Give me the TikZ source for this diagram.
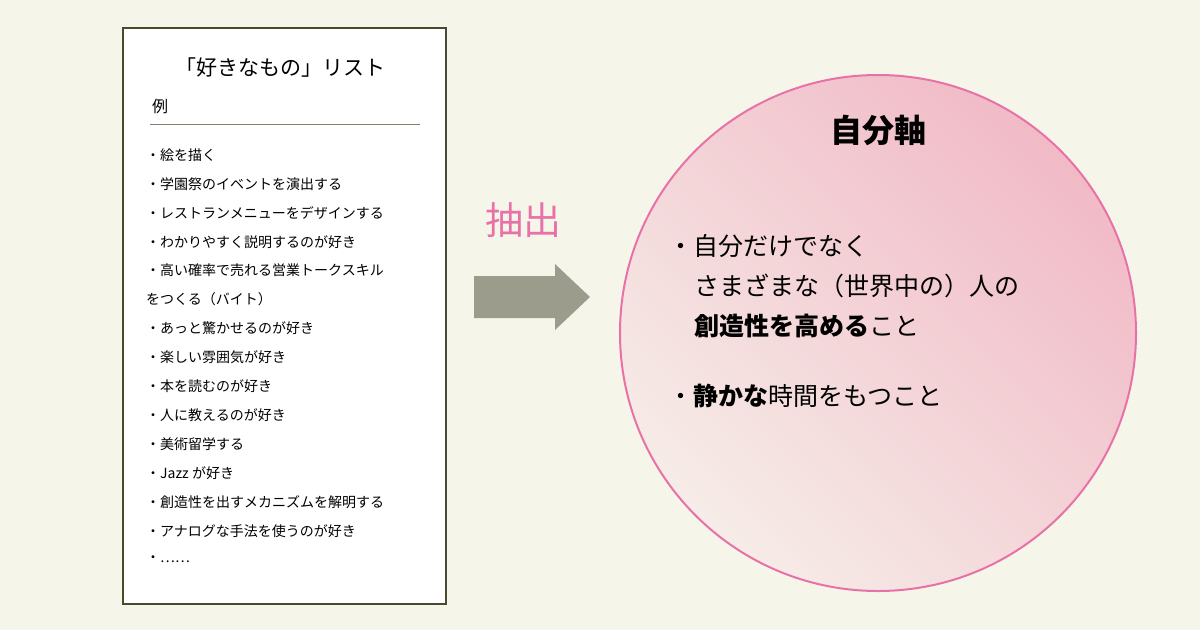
\documentclass[tikz,border=0pt]{standalone}
\usepackage{fontspec}
\newfontfamily\cjk{Noto Sans CJK JP}
\definecolor{bg}{HTML}{F6F5EA}
\definecolor{frame}{HTML}{4A4A2E}
\definecolor{arrowc}{HTML}{9C9C8C}
\definecolor{pinkc}{HTML}{E872A8}
\definecolor{cdark}{HTML}{F1BAC6}
\definecolor{clight}{HTML}{F6ECE8}
\begin{document}
\begin{tikzpicture}[x=1pt,y=-1pt,
  item/.style={anchor=west,inner sep=0pt,font=\cjk\fontsize{14}{16}\selectfont},
  big/.style={anchor=west,inner sep=0pt,font=\cjk\fontsize{25}{30}\selectfont}]
\useasboundingbox (0,0) rectangle (1200,630);
\fill[bg] (0,0) rectangle (1200,630);
\node[draw=frame,line width=1.5pt,fill=white,minimum width=323pt,minimum height=576pt,inner sep=0pt] (box) at (284.5,316) {};
\node[inner sep=0pt,font=\cjk\fontsize{21}{24}\selectfont] (title) at (280,68) {「好きなもの」リスト};
\node[item,font=\cjk\fontsize{16}{18}\selectfont] (ex) at (152,106) {例};
\coordinate (l1) at (150,124); \coordinate (l2) at (420,124);
\draw[frame!70,line width=0.8pt] (l1) -- (l2);
\foreach \t [count=\i] in {・絵を描く,・学園祭のイベントを演出する,・レストランメニューをデザインする,・わかりやすく説明するのが好き,・高い確率で売れる営業トークスキル,をつくる（バイト）,・あっと驚かせるのが好き,・楽しい雰囲気が好き,・本を読むのが好き,・人に教えるのが好き,・美術留学する,・Jazz が好き,・創造性を出すメカニズムを解明する,・アナログな手法を使うのが好き,・……}
  \node[item] (it\i) at (146,{155+(\i-1)*28.9}) {\t};
\fill[arrowc] (474,276) -- (555,276) -- (555,264) -- (590,297) -- (555,330) -- (555,318) -- (474,318) -- cycle;
\node[inner sep=0pt,text=pinkc,font=\cjk\fontsize{38}{40}\selectfont] (ext) at (523,220) {抽出};
\shade[top color=cdark,bottom color=clight,shading angle=-45] (878,333) circle (258);
\draw[pinkc,line width=2pt] (878,333) circle (258) node (circ) {};
\node[inner sep=0pt,font=\cjk\bfseries\fontsize{32}{36}\selectfont] (axis) at (878,130) {自分軸};
\node[big] (a1) at (668,246) {・自分だけでなく};
\node[big] (a2) at (694,286) {さまざまな（世界中の）人の};
\node[big] (a3) at (694,326) {\textbf{創造性を高める}こと};
\node[big] (a4) at (668,396) {・\textbf{静かな}時間をもつこと};
\end{tikzpicture}
\end{document}
